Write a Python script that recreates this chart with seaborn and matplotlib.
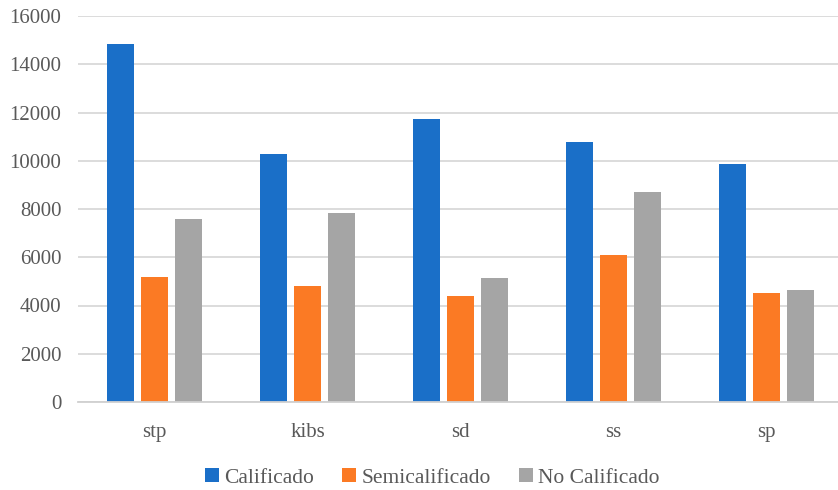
import matplotlib
matplotlib.use("Agg")
import matplotlib.pyplot as plt
import seaborn as sns
import pandas as pd

# Workers by skill level across sector groups
categories = ["stp", "kibs", "sd", "ss", "sp"]
series = ["Calificado", "Semicalificado", "No Calificado"]
calificado = [14850, 10280, 11720, 10770, 9880]
semicalificado = [5200, 4820, 4400, 6080, 4520]
no_calificado = [7590, 7830, 5130, 8690, 4630]
y_ticks = [0, 2000, 4000, 6000, 8000, 10000, 12000, 14000, 16000]

colors = ["#1A6FC8", "#FB7A24", "#A5A5A5"]

df = pd.DataFrame({
    "sector": categories * 3,
    "nivel": [s for s in series for _ in categories],
    "valor": calificado + semicalificado + no_calificado,
})

sns.set_theme(style="white")
plt.rcParams["font.family"] = ["Liberation Serif", "DejaVu Serif"]

fig = plt.figure(figsize=(8.38, 4.90), dpi=100)
ax = fig.add_axes([78 / 838, 1 - 402 / 490, 1 - 78 / 838 + 0.006, 386 / 490])

sns.barplot(data=df, x="sector", y="valor", hue="nivel", order=categories,
            hue_order=series, palette=colors, width=0.667, gap=0.2,
            saturation=1, linewidth=0, ax=ax, legend=True)

ax.set_ylim(0, 16000)
ax.set_xlim(-0.5, 4.5)
ax.set_yticks(y_ticks)
ax.set_yticklabels([str(v) for v in y_ticks])
ax.grid(axis="y", color="#D9D9D9", linewidth=1.3)
ax.set_axisbelow(True)
for side in ["left", "right", "top"]:
    ax.spines[side].set_visible(False)
ax.spines["bottom"].set_color("#D0D0D0")
ax.spines["bottom"].set_linewidth(1.3)
ax.tick_params(axis="y", length=0, pad=12, labelsize=15, labelcolor="#595959")
ax.tick_params(axis="x", length=0, pad=15, labelsize=15, labelcolor="#595959")
ax.set_xlabel("")
ax.set_ylabel("")

handles, labels = ax.get_legend_handles_labels()
ax.legend_.remove()
fig.legend(handles, labels, loc="center", bbox_to_anchor=(432 / 838, 1 - 478 / 490),
           ncol=3, frameon=False, fontsize=15.5, handlelength=0.65, handleheight=0.65,
           handletextpad=0.25, columnspacing=1.3, labelcolor="#595959")

fig.savefig("out.png", dpi=100)
